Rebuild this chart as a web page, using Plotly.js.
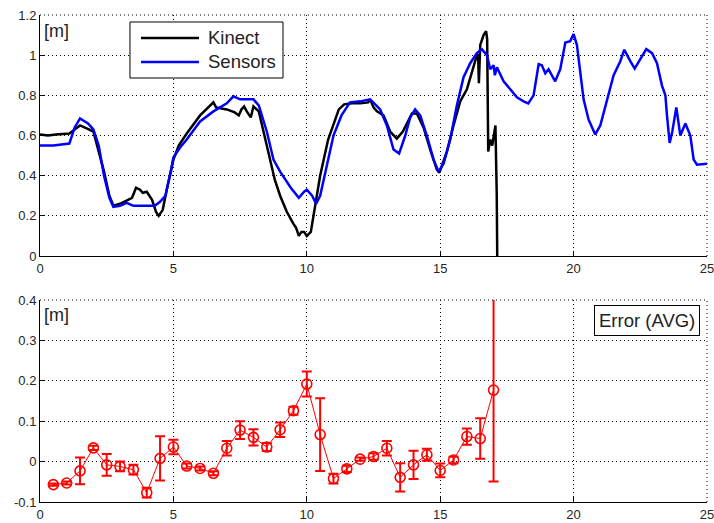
<!DOCTYPE html>
<html>
<head>
<meta charset="utf-8">
<script src="https://cdn.plot.ly/plotly-3.0.1.min.js"></script>
<style>html,body{margin:0;padding:0;background:#fff;}#chart{width:714px;height:523px;}</style>
</head>
<body>
<div id="chart"></div>
<script>
// Top plot: Kinect vs Sensors (metres over time)
const kinectX = [0,0.3,0.6,0.9,1.1,1.3,1.5,1.75,2.0,2.2,2.4,2.6,2.75,3.0,3.2,3.45,3.6,3.75,3.85,4.0,4.2,4.35,4.45,4.6,4.75,4.9,5.0,5.2,5.5,6.0,6.3,6.5,6.6,7.0,7.3,7.45,7.55,7.65,7.75,7.9,8.0,8.2,8.5,8.8,9.0,9.25,9.5,9.6,9.7,9.8,9.9,10.0,10.15,10.3,10.5,10.8,11.0,11.2,11.4,11.7,12.0,12.3,12.375,12.5,12.63,12.875,13.125,13.375,13.6,13.94,14.125,14.375,14.625,14.875,14.97,15.25,15.5,15.75,16.0,16.25,16.375,16.42,16.45,16.5,16.625,16.72,16.76,16.8,16.875,16.95,17.0,17.07,17.12,17.15];
const kinectY = [0.605,0.60,0.605,0.61,0.61,0.63,0.65,0.635,0.62,0.52,0.42,0.30,0.25,0.26,0.275,0.29,0.34,0.33,0.315,0.32,0.28,0.22,0.20,0.23,0.33,0.42,0.48,0.55,0.61,0.70,0.74,0.765,0.74,0.73,0.715,0.70,0.73,0.745,0.72,0.69,0.745,0.72,0.55,0.38,0.30,0.22,0.16,0.14,0.10,0.12,0.12,0.10,0.12,0.25,0.40,0.58,0.66,0.73,0.755,0.76,0.76,0.765,0.78,0.74,0.72,0.70,0.62,0.585,0.62,0.71,0.71,0.64,0.53,0.43,0.415,0.52,0.65,0.77,0.83,0.94,1.0,1.0,0.86,1.05,1.1,1.12,1.08,0.52,0.58,0.55,0.60,0.65,0.30,-0.2];

const sensorsX = [0,0.5,1.1,1.3,1.5,1.8,2.0,2.2,2.4,2.6,2.75,3.0,3.25,3.5,4.0,4.3,4.5,4.7,4.9,5.0,5.25,5.5,6.0,6.5,7.0,7.25,7.5,8.0,8.2,8.5,8.75,9.0,9.4,9.7,9.9,10.0,10.2,10.35,10.5,10.75,11.0,11.3,11.62,12.0,12.375,12.75,13.0,13.25,13.46,13.69,13.875,14.06,14.25,14.5,14.75,14.94,15.125,15.375,15.625,15.875,16.125,16.375,16.56,16.75,16.875,17.0,17.05,17.125,17.375,17.625,17.875,18.125,18.3,18.5,18.69,18.81,18.94,19.06,19.31,19.5,19.69,19.875,20.0,20.125,20.25,20.375,20.56,20.81,21.0,21.25,21.5,21.75,21.9,22.125,22.29,22.5,22.725,22.94,23.125,23.31,23.44,23.5,23.6,23.7,23.85,24.0,24.19,24.375,24.5,24.625,25.0];
const sensorsY = [0.55,0.55,0.56,0.64,0.685,0.66,0.63,0.55,0.40,0.29,0.245,0.25,0.265,0.25,0.25,0.25,0.27,0.30,0.42,0.49,0.54,0.58,0.67,0.72,0.76,0.795,0.78,0.78,0.75,0.62,0.48,0.42,0.34,0.29,0.32,0.33,0.30,0.26,0.30,0.45,0.60,0.70,0.765,0.77,0.78,0.73,0.65,0.53,0.51,0.60,0.69,0.73,0.70,0.60,0.48,0.42,0.46,0.58,0.75,0.89,0.96,1.01,1.03,1.00,0.93,0.95,0.90,0.94,0.87,0.83,0.79,0.77,0.76,0.80,0.955,0.95,0.91,0.93,0.87,0.93,1.063,1.07,1.105,1.05,0.90,0.78,0.68,0.605,0.65,0.77,0.90,0.97,1.027,0.97,0.933,0.98,1.03,1.01,0.96,0.85,0.80,0.70,0.563,0.62,0.74,0.60,0.66,0.60,0.48,0.455,0.46];

// Bottom plot: average error with error bars
const errX = [0.5,1,1.5,2,2.5,3,3.5,4,4.5,5,5.5,6,6.5,7,7.5,8,8.5,9,9.5,10,10.5,11,11.5,12,12.5,13,13.5,14,14.5,15,15.5,16,16.5,17];
const errY = [-0.057,-0.053,-0.023,0.034,-0.008,-0.012,-0.020,-0.077,0.008,0.036,-0.011,-0.017,-0.029,0.033,0.078,0.060,0.036,0.079,0.126,0.192,0.067,-0.042,-0.018,0.006,0.0125,0.033,-0.039,-0.008,0.017,-0.022,0.004,0.062,0.057,0.177];
const errBar = [0.003,0.004,0.033,0.005,0.027,0.012,0.012,0.012,0.055,0.018,0.006,0.005,0.005,0.018,0.022,0.020,0.010,0.018,0.010,0.031,0.090,0.012,0.008,0.004,0.008,0.018,0.035,0.035,0.015,0.017,0.008,0.020,0.050,0.226];

const xTicks = [0,5,10,15,20,25];
const topYTicks = [0,0.2,0.4,0.6,0.8,1,1.2];
const botYTicks = [-0.1,0,0.1,0.2,0.3,0.4];
const botYText = ['-0.1','0','0.1','0.2','0.3','0.4'];
const legendNames = ['Kinect','Sensors'];
const legendColors = ['#000','#0000ff'];

const FONT = 'Liberation Sans, Arial, sans-serif';
const tickFont = {family:FONT, size:13, color:'#262626'};
const gridCommon = {showgrid:true, gridcolor:'#000', gridwidth:1, griddash:'1px,3px', zeroline:false,
  showline:true, linecolor:'#000', linewidth:1, ticks:'inside', ticklen:5, tickcolor:'#000', tickfont:tickFont,
  ticklabeloverflow:'allow'};

const traces = [
  {x:kinectX, y:kinectY, type:'scatter', mode:'lines', name:legendNames[0], showlegend:false, line:{color:legendColors[0], width:2.5}, xaxis:'x', yaxis:'y'},
  {x:sensorsX, y:sensorsY, type:'scatter', mode:'lines', name:legendNames[1], showlegend:false, line:{color:legendColors[1], width:2.5}, xaxis:'x', yaxis:'y'},
  {x:errX, y:errY, type:'scatter', mode:'lines+markers', name:'Error (AVG)', showlegend:false,
   line:{color:'#ff0000', width:1}, marker:{symbol:'circle-open', size:10, color:'#ff0000', line:{width:1.6, color:'#ff0000'}},
   error_y:{type:'data', array:errBar, visible:true, color:'#ff0000', thickness:2, width:5},
   xaxis:'x2', yaxis:'y2'}
];

const dotted = {color:'#000', width:1, dash:'1px,3px'};
// legend box geometry (axis-domain fractions of the top panel)
const legBox = {x0:0.1349, x1:0.3643, y0:0.7386, y1:0.9710};
const legRows = [0.9046, 0.8050];
const legLineX = [0.1514, 0.2384];
const legTextX = 0.2489;

const shapes = [
  {type:'line', xref:'x domain', yref:'y domain', x0:0, x1:1, y0:1, y1:1, line:dotted, layer:'below'},
  {type:'line', xref:'x domain', yref:'y domain', x0:1, x1:1, y0:0, y1:1, line:dotted, layer:'below'},
  {type:'line', xref:'x2 domain', yref:'y2 domain', x0:0, x1:1, y0:1, y1:1, line:dotted, layer:'below'},
  {type:'line', xref:'x2 domain', yref:'y2 domain', x0:1, x1:1, y0:0, y1:1, line:dotted, layer:'below'},
  {type:'rect', xref:'x domain', yref:'y domain', x0:legBox.x0, x1:legBox.x1, y0:legBox.y0, y1:legBox.y1,
   line:{color:'#000', width:1}, fillcolor:'#fff', layer:'above'}
];
const annotations = [
  {text:'[m]', xref:'x domain', yref:'y domain', x:0.003, y:0.985, xanchor:'left', yanchor:'top', showarrow:false,
   font:{family:FONT, size:18, color:'#222'}},
  {text:'[m]', xref:'x2 domain', yref:'y2 domain', x:0.003, y:0.985, xanchor:'left', yanchor:'top', showarrow:false,
   font:{family:FONT, size:18, color:'#222'}},
  {text:'Error (AVG)', xref:'x2 domain', yref:'y2 domain', x:0.9895, y:0.975, xanchor:'right', yanchor:'top', showarrow:false,
   bordercolor:'#000', borderwidth:1, borderpad:4, bgcolor:'#fff',
   font:{family:FONT, size:18.5, color:'#222'}}
];
legendNames.forEach((nm, i) => {
  shapes.push({type:'line', xref:'x domain', yref:'y domain', x0:legLineX[0], x1:legLineX[1], y0:legRows[i], y1:legRows[i],
    line:{color:legendColors[i], width:2.5}, layer:'above'});
  annotations.push({text:nm, xref:'x domain', yref:'y domain', x:legTextX, y:legRows[i], xanchor:'left', yanchor:'middle',
    showarrow:false, font:{family:FONT, size:18.5, color:'#222'}});
});

const layout = {
  width:714, height:523,
  margin:{l:40, r:7, t:15, b:21},
  paper_bgcolor:'#fff', plot_bgcolor:'#fff',
  showlegend:false,
  xaxis:Object.assign({}, gridCommon, {range:[0,25], tickvals:xTicks, anchor:'y', domain:[0,1]}),
  yaxis:Object.assign({}, gridCommon, {range:[0,1.2], tickvals:topYTicks, domain:[0.5051,1], anchor:'x'}),
  xaxis2:Object.assign({}, gridCommon, {range:[0,25], tickvals:xTicks, anchor:'y2', domain:[0,1]}),
  yaxis2:Object.assign({}, gridCommon, {range:[-0.1,0.4], tickvals:botYTicks, ticktext:botYText, domain:[0,0.4148], anchor:'x2'}),
  shapes:shapes,
  annotations:annotations
};

Plotly.newPlot('chart', traces, layout, {displayModeBar:false, staticPlot:true});
</script>
</body>
</html>
